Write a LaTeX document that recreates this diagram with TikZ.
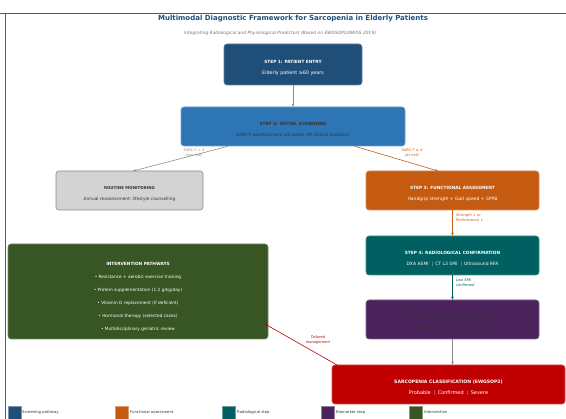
\documentclass[tikz,border=0pt]{standalone}
\usepackage{fontspec}
\setmainfont{DejaVu Sans}
\usetikzlibrary{arrows.meta}
\definecolor{cBlueD}{HTML}{1F4E79}
\definecolor{cBlue}{HTML}{2E75B6}
\definecolor{cGray}{HTML}{D3D3D3}
\definecolor{cOrange}{HTML}{C55A11}
\definecolor{cTeal}{HTML}{005F60}
\definecolor{cPurple}{HTML}{4A235A}
\definecolor{cGreen}{HTML}{375623}
\definecolor{cRed}{HTML}{C00000}
\definecolor{cText}{HTML}{333333}
\newcommand{\topstrut}{\rule{0pt}{10pt}}
\begin{document}
\begin{tikzpicture}[x=1pt,y=-1pt,
  stepbox/.style={rounded corners=3pt, draw=#1!70!white, line width=0.6pt, fill=#1, align=center, inner sep=0pt, font=\fontsize{4.3}{5}\selectfont},
  arr/.style={line width=0.6pt, -{Stealth[length=3pt,width=2.6pt]}},
  elabel/.style={font=\fontsize{3.6}{4.6}\selectfont\itshape, align=left, inner sep=0pt},
  legbox/.style={draw=#1!60!white, fill=#1, minimum width=13pt, minimum height=13pt, inner sep=0pt, line width=0.5pt},
  legtext/.style={font=\fontsize{3.8}{4.5}\selectfont, text=cText, anchor=west, inner sep=0pt}
]
\useasboundingbox (0,0) rectangle (566,419);
% frame
\draw[line width=0.8pt, draw=black!65] (0,13) -- (566,13);
\draw[line width=0.8pt, draw=black!65] (5,13) -- (5,419);
% title
\node[font=\fontsize{7}{8}\selectfont\bfseries, text=cBlueD, inner sep=0pt] (title) at (293,19) {Multimodal Diagnostic Framework for Sarcopenia in Elderly Patients};
\node[font=\fontsize{4.4}{5}\selectfont\itshape, text=black!55, inner sep=0pt] (subtitle) at (280,33.5) {Integrating Radiological and Physiological Predictors (Based on EWGSOP2/AWGS 2019)};

\coordinate (s2l) at (228,140);
\coordinate (s2r) at (355,140);
\coordinate (rtop) at (133,171);
\coordinate (s3top) at (438,171);

% boxes
\node[stepbox=cBlueD, minimum width=138pt, minimum height=41pt, text=white] (s1) at (293,64.5)
  {\topstrut{\bfseries STEP 1: PATIENT ENTRY}\\[6pt]{\fontsize{4.8}{5}\selectfont Elderly patient ≥60 years}};
\node[stepbox=cBlue, minimum width=224pt, minimum height=39pt, text=cText] (s2) at (293,126.5)
  {\topstrut{\bfseries STEP 2: INITIAL SCREENING}\\[6pt]SARC-F questionnaire ≥4 points OR clinical suspicion};
\node[stepbox=cGray, draw=black!45, minimum width=147pt, minimum height=39pt, text=cText] (rm) at (129.5,190.5)
  {\topstrut{\fontsize{4}{5}\selectfont\bfseries ROUTINE MONITORING}\\[6pt]Annual reassessment; lifestyle counselling};
\node[stepbox=cOrange, minimum width=173pt, minimum height=39pt, text=white] (s3) at (452.5,190.5)
  {\topstrut{\bfseries STEP 3: FUNCTIONAL ASSESSMENT}\\[6pt]{\fontsize{4.5}{5}\selectfont Handgrip strength + Gait speed + SPPB}};
\node[stepbox=cTeal, minimum width=173pt, minimum height=39pt, text=white] (s4) at (452.5,255.5)
  {\topstrut{\bfseries STEP 4: RADIOLOGICAL CONFIRMATION}\\[6pt]{\fontsize{4.5}{5}\selectfont DXA ASMI \ $|$\ CT L3 SMI \ $|$\ Ultrasound RFA}};
\node[stepbox=cPurple, minimum width=173pt, minimum height=39pt, text=cText] (s5) at (452.5,319.5)
  {\topstrut{\bfseries STEP 5: BIOMARKER PROFILING}\\[6pt]{\fontsize{4.5}{5}\selectfont Myostatin \ $|$\ IL-6 \ $|$\ TNF-α \ $|$\ IGF-1}};
\node[stepbox=cGreen, minimum width=260pt, minimum height=95pt, text=white] (iv) at (138,291.5)
  {\rule{0pt}{13pt}{\bfseries INTERVENTION PATHWAYS}\\[8pt]
   • Resistance + aerobic exercise training\\[8pt]
   • Protein supplementation (1.2 g/kg/day)\\[8pt]
   • Vitamin D replacement (if deficient)\\[8pt]
   • Hormonal therapy (selected cases)\\[8pt]
   • Multidisciplinary geriatric review};
\node[stepbox=cRed, minimum width=233pt, minimum height=39pt, text=white] (cl) at (448.5,384.5)
  {\topstrut{\fontsize{4.6}{5}\selectfont\bfseries SARCOPENIA CLASSIFICATION (EWGSOP2)}\\[6pt]{\fontsize{5}{5}\selectfont Probable \ $|$\ Confirmed \ $|$\ Severe}};

% connectors
\draw[arr, draw=black!45] (s1.south) -- (s2.north);
\draw[arr, draw=black!45] (s2.south -| s2l) -- (rtop);
\draw[arr, draw=cOrange] (s2.south -| s2r) -- (s3top);
\draw[arr, draw=cOrange] (s3.south) -- (s4.north);
\draw[arr, draw=cTeal] (s4.south) -- (s5.north);
\draw[arr, draw=black!45] (s5.south) -- (s5.south |- cl.north);
\coordinate (clc) at (337,365);
\coordinate (ivr) at (265,324);
\draw[arr, draw=cRed] (clc) -- (ivr);

% edge labels
\node[elabel, text=black!45, align=center] (l1) at (194,153) {SARC-F < 4\\(low risk)};
\node[elabel, text=cOrange, align=center] (l2) at (412,153) {SARC-F ≥ 4\\(at risk)};
\node[elabel, text=cOrange, anchor=west] (l3) at (456,217.5) {Strength ↓ or\\Performance ↓};
\node[elabel, text=cTeal, anchor=west] (l4) at (456,282.5) {Low SMI\\confirmed};
\node[elabel, text=cRed, align=center] (l5) at (318,340) {Tailored\\management};

% legend
\node[legbox=cBlueD] (lg1) at (14.5,412.5) {};
\node[legtext] (lt1) at (22,412.5) {Screening pathway};
\node[legbox=cOrange] (lg2) at (121.5,412.5) {};
\node[legtext] (lt2) at (130,412.5) {Functional assessment};
\node[legbox=cTeal] (lg3) at (228.5,412.5) {};
\node[legtext] (lt3) at (237,412.5) {Radiological step};
\node[legbox=cPurple] (lg4) at (327.5,412.5) {};
\node[legtext] (lt4) at (336,412.5) {Biomarker step};
\node[legbox=cGreen] (lg5) at (415.5,412.5) {};
\node[legtext] (lt5) at (424,412.5) {Intervention};
\end{tikzpicture}
\end{document}
